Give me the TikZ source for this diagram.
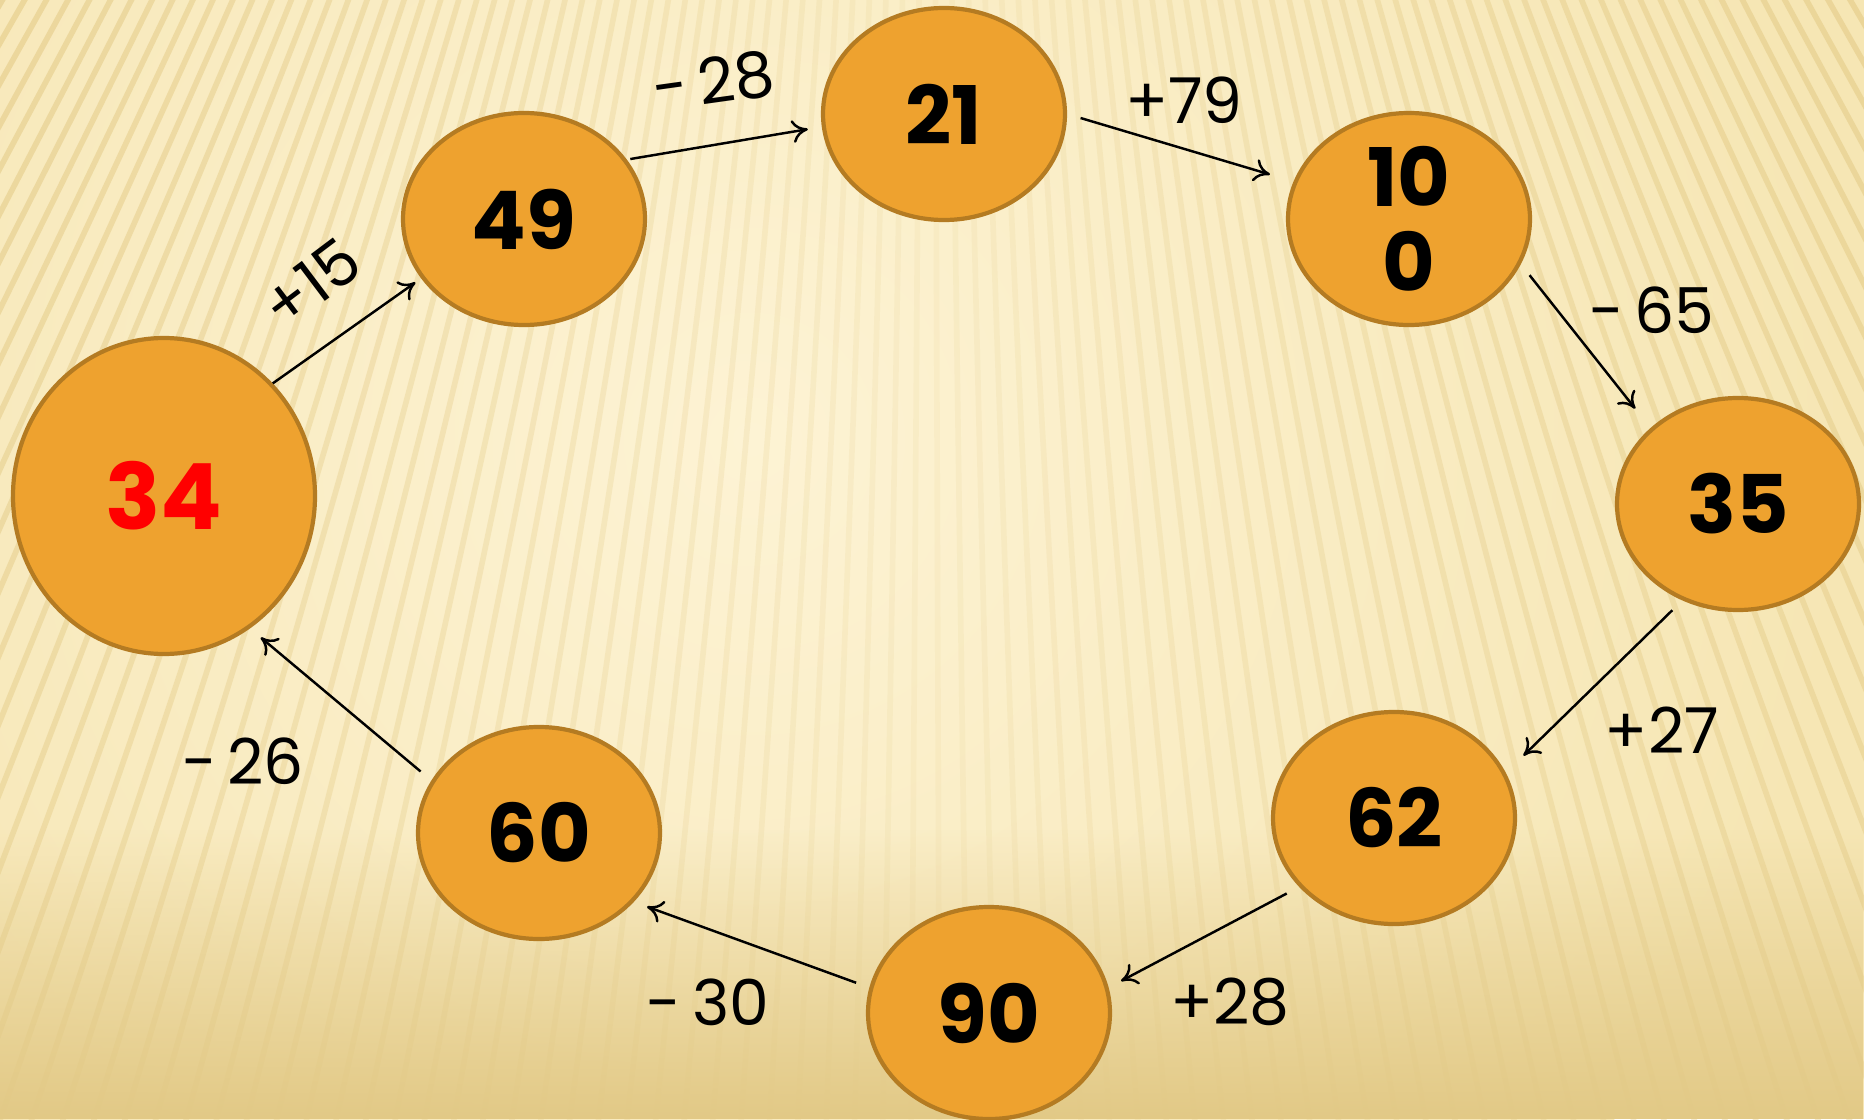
\documentclass[tikz,border=0pt]{standalone}
\usepackage{fontspec}
\setmainfont{Poppins}
\usetikzlibrary{shapes.geometric,fadings,arrows.meta}
\definecolor{bgbase}{RGB}{246,230,180}
\definecolor{bglight}{RGB}{253,243,212}
\definecolor{bgdark}{RGB}{226,201,134}
\definecolor{stripe}{RGB}{228,203,135}
\definecolor{ballfill}{RGB}{238,162,47}
\definecolor{balledge}{RGB}{180,123,34}
\tikzset{
  ball/.style={draw=balledge, fill=ballfill, line width=1.2pt, ellipse, inner sep=0pt,
    minimum width=2.42cm, minimum height=2.12cm, align=center,
    font=\fontsize{23}{24}\selectfont\bfseries},
  bigball/.style={ball, minimum width=3.02cm, minimum height=3.16cm,
    font=\fontsize{26}{28}\selectfont\bfseries},
  diff/.style={font=\fontsize{18}{22}\selectfont},
  link/.style={->, line width=0.7pt, shorten <=4pt, shorten >=4pt},
  >={To[length=4.5pt,width=6.5pt]}
}
\begin{document}
\begin{tikzpicture}
% background
\useasboundingbox (0,0) rectangle (18.64,11.19);
\begin{scope}
\clip (0,0) rectangle (18.64,11.19);
\fill[bgbase] (0,0) rectangle (18.64,11.19);
\shade[inner color=bglight, outer color=bgbase] (7.5,6.8) circle (11);
\foreach \a [evaluate=\a as \op using {0.12+0.5*abs(\a+90)/31}] in {-121,-120.4,...,-59}
  \draw[stripe, line width=1.6pt, opacity=\op] (9.3,27) -- ++(\a:40);
\fill[bgdark, path fading=north] (0,0) rectangle (18.64,2.9);
\end{scope}

% numbers
\node[bigball, text=red] (n34) at (1.64,6.23) {34};
\node[ball] (n49) at (5.24,9.00) {49};
\node[ball] (n21) at (9.44,10.05) {21};
\node[ball] (n100) at (14.09,9.00) {10\\0};
\node[ball] (n35) at (17.38,6.15) {35};
\node[ball] (n62) at (13.94,3.01) {62};
\node[ball] (n90) at (9.89,1.06) {90};
\node[ball] (n60) at (5.39,2.86) {60};

% steps
\draw[link, shorten <=0pt, shorten >=2pt] (n34.46) -- (n49.210);
\draw[link, shorten <=1pt] (n49.30) -- (n21.186);
\draw[link, shorten >=7pt] (n21.0) -- (n100.162);
\draw[link, shorten >=7pt] (n100.-22) -- (n35.139);
\draw[link, shorten >=7pt] (n35.240) -- (n62.22);
\draw[link] (n62.216) -- (n90.12);
\draw[link] (n90.168) -- (n60.-36);
\draw[link] (n60.154) -- (n34.-57);

% labels
\node[diff, rotate=37] (d15) at (3.11,8.36) {+15};
\node[diff, rotate=8] (d28a) at (7.14,10.38) {-\,28};
\node[diff] (d79) at (11.84,10.19) {+79};
\node[diff] (d65) at (16.52,8.09) {-\,65};
\node[diff] (d27) at (16.62,3.89) {+27};
\node[diff] (d28b) at (12.30,1.17) {+28};
\node[diff] (d30) at (7.08,1.17) {-\,30};
\node[diff] (d26) at (2.43,3.58) {-\,26};
\end{tikzpicture}
\end{document}
